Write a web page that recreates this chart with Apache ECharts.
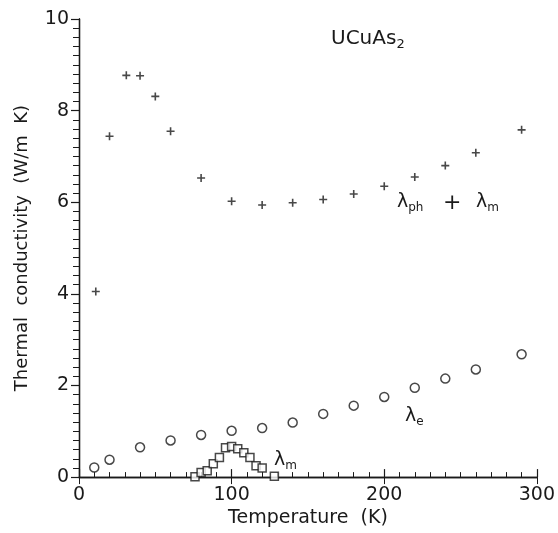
<!DOCTYPE html>
<html><head><meta charset="utf-8">
<script src="https://cdn.jsdelivr.net/npm/echarts@6/dist/echarts.min.js"></script>
<style>html,body{margin:0;padding:0;background:#fff}#c{width:558px;height:533px}</style>
</head><body><div id="c"></div>
<script>
// lambda_ph + lambda_m (plus markers)
const phT = [11, 20, 31, 40, 50, 60, 80, 100, 120, 140, 160, 180, 200, 220, 240, 260, 290];
const phK = [4.05, 7.44, 8.77, 8.76, 8.31, 7.55, 6.53, 6.02, 5.94, 5.99, 6.06, 6.18, 6.35, 6.55, 6.80, 7.08, 7.58];
// lambda_e (open circles)
const eT = [10, 20, 40, 60, 80, 100, 120, 140, 160, 180, 200, 220, 240, 260, 290];
const eK = [0.21, 0.38, 0.65, 0.80, 0.92, 1.01, 1.07, 1.19, 1.38, 1.56, 1.75, 1.95, 2.15, 2.35, 2.68];
// lambda_m (open squares)
const mT = [76, 80, 84, 88, 92, 96, 100, 104, 108, 112, 116, 120, 128];
const mK = [0.01, 0.10, 0.14, 0.29, 0.43, 0.64, 0.67, 0.62, 0.53, 0.43, 0.25, 0.20, 0.02];
const xTicks = [0, 100, 200, 300];
const yTicks = [0, 2, 4, 6, 8, 10];

const FONT = 'DejaVu Sans';
const INK = '#1a1a1a';
const zip = (a, b) => a.map((v, i) => [v, b[i]]);
const plusPath = 'path://M4,0h2v4h4v2h-4v4h-2v-4h-4v-2h4z';
const subStyle = {fontSize: 12, fontFamily: FONT, fill: INK, padding: [11, 0, 0, 0]};

const chart = echarts.init(document.getElementById('c'), null, {renderer: 'canvas'});
chart.setOption({
  animation: false,
  backgroundColor: '#fff',
  grid: {left: 79, right: 18, top: 19, bottom: 45, containLabel: false},
  xAxis: [{
    type: 'value', min: 0, max: 300, interval: 100, position: 'bottom',
    name: 'Temperature  (K)', nameLocation: 'middle', nameGap: 28,
    nameTextStyle: {fontFamily: FONT, fontSize: 19, color: INK},
    axisLine: {show: true, lineStyle: {color: INK, width: 1.3}},
    axisTick: {show: true, inside: true, length: 8, lineStyle: {color: INK, width: 1.2}},
    minorTick: {show: true, splitNumber: 10, length: 5, lineStyle: {color: INK, width: 1}},
    axisLabel: {fontFamily: FONT, fontSize: 19, color: INK, margin: 8,
      formatter: v => xTicks.includes(v) ? String(v) : ''},
    splitLine: {show: false}
  }, {
    type: 'value', min: 0, max: 300, interval: 100, position: 'top',
    axisLine: {show: true, lineStyle: {color: INK, width: 1.3}},
    axisTick: {show: true, inside: true, length: 7, lineStyle: {color: INK, width: 1}},
    axisLabel: {show: false}, splitLine: {show: false}
  }],
  yAxis: [{
    type: 'value', min: 0, max: 10, interval: 2, position: 'left',
    name: 'Thermal  conductivity  (W/m  K)', nameLocation: 'middle', nameGap: 48,
    nameRotate: 90,
    nameTextStyle: {fontFamily: FONT, fontSize: 18, color: INK},
    axisLine: {show: true, lineStyle: {color: INK, width: 1.3}},
    axisTick: {show: true, inside: false, length: 8, lineStyle: {color: INK, width: 1.2}},
    minorTick: {show: true, splitNumber: 10, length: 6, lineStyle: {color: INK, width: 1}},
    axisLabel: {fontFamily: FONT, fontSize: 19, color: INK, margin: 10,
      formatter: v => yTicks.includes(v) ? String(v) : ''},
    splitLine: {show: false}
  }, {
    type: 'value', min: 0, max: 10, interval: 2, position: 'right',
    axisLine: {show: true, lineStyle: {color: INK, width: 1.3}},
    axisTick: {show: true, inside: true, length: 7, lineStyle: {color: INK, width: 1}},
    axisLabel: {show: false}, splitLine: {show: false}
  }],
  series: [{
    type: 'scatter', name: 'ph+m', data: zip(phT, phK),
    symbol: plusPath, symbolSize: 8,
    itemStyle: {color: INK}
  }, {
    type: 'scatter', name: 'e', data: zip(eT, eK),
    symbol: 'circle', symbolSize: 9,
    itemStyle: {color: '#fff', borderColor: INK, borderWidth: 1.5}
  }, {
    type: 'scatter', name: 'm', data: zip(mT, mK),
    symbol: 'rect', symbolSize: 8,
    itemStyle: {color: '#fff', borderColor: INK, borderWidth: 1.5}
  }],
  graphic: [{
    type: 'text', left: 331, top: 29,
    style: {
      text: 'UCuAs{sub|2}', fontFamily: FONT, fontSize: 20, fill: INK,
      rich: {sub: {fontSize: 13, fontFamily: FONT, fill: INK, padding: [12, 0, 0, 0]}}
    }
  }, {
    type: 'text', left: 397, top: 193,
    style: {text: 'λ{sub|ph}', fontFamily: FONT, fontSize: 19, fill: INK, rich: {sub: subStyle}}
  }, {
    type: 'text', left: 443, top: 192,
    style: {text: '+', fontFamily: FONT, fontSize: 22, fill: INK}
  }, {
    type: 'text', left: 476, top: 193,
    style: {text: 'λ{sub|m}', fontFamily: FONT, fontSize: 19, fill: INK, rich: {sub: subStyle}}
  }, {
    type: 'text', left: 405, top: 407,
    style: {text: 'λ{sub|e}', fontFamily: FONT, fontSize: 19, fill: INK, rich: {sub: subStyle}}
  }, {
    type: 'text', left: 274, top: 451,
    style: {text: 'λ{sub|m}', fontFamily: FONT, fontSize: 19, fill: INK, rich: {sub: subStyle}}
  }]
});
</script></body></html>
